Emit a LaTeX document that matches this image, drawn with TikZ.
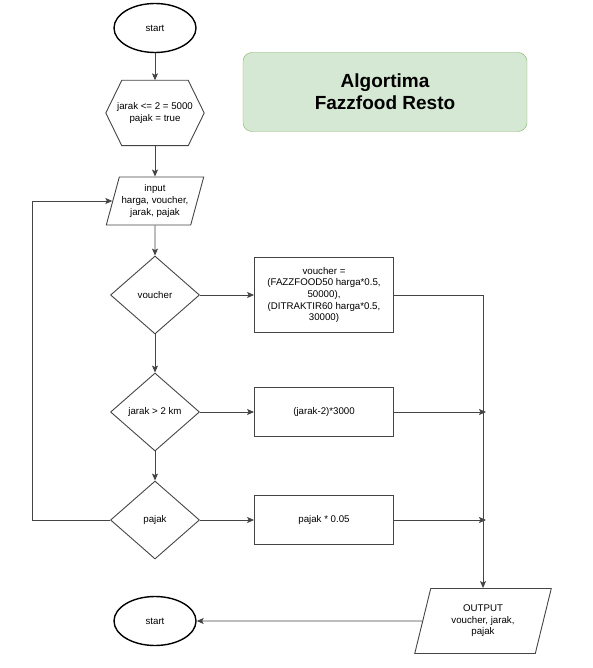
\documentclass[tikz,border=0pt]{standalone}
\usepackage{fontspec}
\setmainfont{Liberation Sans}
\usepackage{xcolor}
\usetikzlibrary{arrows.meta}
\usetikzlibrary{shapes.geometric}
\usetikzlibrary{calc}

\definecolor{edgegray}{HTML}{444444}
\definecolor{titlefill}{HTML}{D5E8D4}
\definecolor{titledraw}{HTML}{82B366}

% hexagon outline round a (plain) node, #2 = inset of the points
\newcommand{\hexaborder}[2]{%
    \draw[draw = edgegray, line width = 0.9pt]
        (#1.west) -- ($(#1.north west)+(#2,0)$) -- ($(#1.north east)+(-#2,0)$)
        -- (#1.east) -- ($(#1.south east)+(-#2,0)$) -- ($(#1.south west)+(#2,0)$) -- cycle;}

\begin{document}
\begin{tikzpicture}[
                > = {Stealth[length=7pt,width=6pt,inset=1.5pt]}, % arrow head style
                node distance = 85pt, % distance between nodes
                font = \fontsize{9.7}{11.6}\selectfont
        ]

        \tikzstyle{line}=[
            ->,
            draw = edgegray,
            line width = 0.9pt
        ]
        \tikzstyle{terminal}=[
            ellipse,
            draw = black,
            line width = 1.4pt,
            minimum width = 82pt,
            minimum height = 49pt
        ]
        \tikzstyle{prep}=[
            rectangle,
            align = center,
            minimum width = 98pt,
            minimum height = 65pt
        ]
        \tikzstyle{io}=[
            trapezium,
            trapezium left angle = 72.6,
            trapezium right angle = 107.4,
            trapezium stretches = true,
            draw = edgegray,
            line width = 0.9pt,
            align = center,
            inner xsep = 0pt,
            minimum width = 98pt,
            minimum height = 48pt
        ]
        \tikzstyle{decision}=[
            diamond,
            draw = edgegray,
            line width = 0.9pt,
            align = center,
            minimum width = 89pt,
            minimum height = 78pt,
            inner sep = 0pt
        ]
        \tikzstyle{process}=[
            rectangle,
            draw = edgegray,
            line width = 0.9pt,
            align = center,
            minimum width = 139pt,
            minimum height = 49pt
        ]

        \useasboundingbox (0,0) rectangle (592pt,-668pt);

        \node[rectangle, rounded corners = 9pt, draw = titledraw, fill = titlefill,
              minimum width = 284pt, minimum height = 79pt, align = center,
              font = \fontsize{19}{22}\selectfont\bfseries] (Title) at (385pt,-92pt)
              {Algortima\\Fazzfood Resto};

        \node[terminal] (Start) at (155pt,-28pt) {start};
        \node[prep] (Init) [below of=Start] {jarak <= 2 = 5000\\pajak = true};
        \hexaborder{Init}{16pt}
        \node[io] (Input) [below of=Init, node distance=88pt] {input\\harga, voucher,\\jarak, pajak};
        \node[decision] (Voucher) [below of=Input, node distance=94pt] {voucher};
        \node[decision] (Jarak) [below of=Voucher, node distance=117pt] {jarak > 2 km};
        \node[decision] (Pajak) [below of=Jarak, node distance=108pt] {pajak};
        \node[terminal] (Stop) [below of=Pajak, node distance=101pt] {start};

        \node[process, minimum height=75pt] (VoucherCalc) [right of=Voucher, node distance=169pt]
            {voucher =\\(FAZZFOOD50 harga*0.5,\\50000),\\(DITRAKTIR60 harga*0.5,\\30000)};
        \node[process] (JarakCalc) [right of=Jarak, node distance=169pt] {(jarak-2)*3000};
        \node[process] (PajakCalc) [right of=Pajak, node distance=169pt] {pajak * 0.05};
        \node[io, trapezium left angle=76, trapezium right angle=104,
              minimum width=137pt, minimum height=65pt] (Output) [right of=Stop, node distance=328pt]
            {OUTPUT\\voucher, jarak,\\pajak};

        \draw[line] (Start) -- (Init);
        \draw[line] (Init) -- (Input);
        \draw[line] (Input) -- (Voucher);
        \draw[line] (Voucher) -- (Jarak);
        \draw[line] (Jarak) -- (Pajak);
        \draw[line] (Pajak.west) -- ++(-78pt,0) |- (Input.west);

        \draw[line] (Voucher) -- (VoucherCalc);
        \draw[line] (Jarak) -- (JarakCalc);
        \draw[line] (Pajak) -- (PajakCalc);

        \draw[line] (VoucherCalc.east) -| (Output.north);
        \draw[line, shorten >=-3pt] (JarakCalc.east) -- (Output.north |- JarakCalc.east);
        \draw[line, shorten >=-3pt] (PajakCalc.east) -- (Output.north |- PajakCalc.east);
        \draw[line] (Output) -- (Stop);

        \end{tikzpicture}
\end{document}
